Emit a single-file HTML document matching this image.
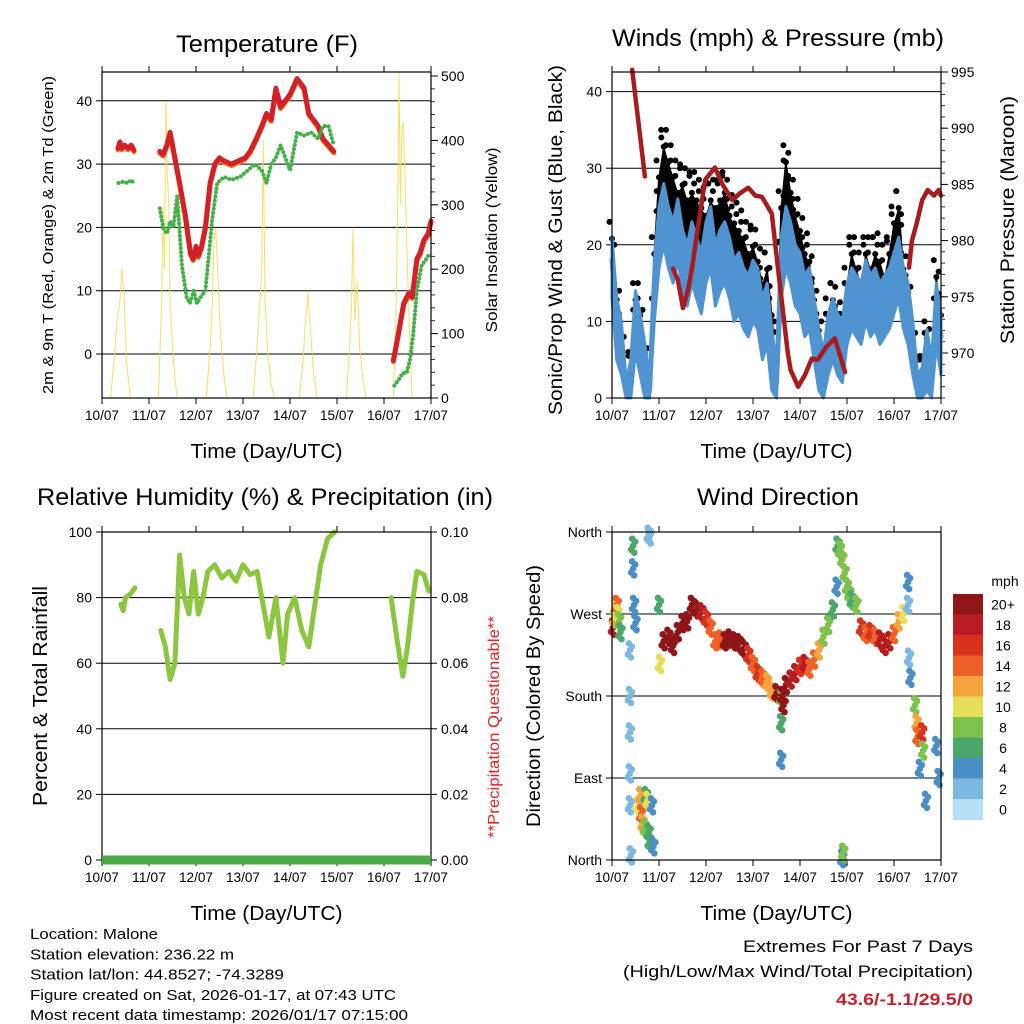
<!DOCTYPE html>
<html><head><meta charset="utf-8"><style>
html,body{margin:0;padding:0;background:#fff;}
svg{display:block;font-family:"Liberation Sans",sans-serif;}
</style></head><body>
<svg id="fig" width="1024" height="1024" viewBox="0 0 1024 1024" xmlns="http://www.w3.org/2000/svg"></svg>
<script>
// ---------- DATA ----------
const dayLabels = ["10/07","11/07","12/07","13/07","14/07","15/07","16/07","17/07"];
const tempT = [[0.34,0.38,0.42,0.48,0.55,0.62,0.68],[1.23,1.3,1.38,1.45,1.55,1.65,1.77,1.88,1.94,2.0,2.05,2.12,2.2,2.3,2.4,2.5,2.6,2.75,2.9,3.05,3.15,3.28,3.4,3.5,3.6,3.7,3.8,3.9,4.0,4.15,4.3,4.4,4.5,4.6,4.7,4.82,4.93],[6.2,6.3,6.42,6.52,6.6,6.7,6.77,6.85,6.94,7.0]];
const tempV = [[32.5,33.5,32.5,33,32.5,33,32.2],[32,31.5,33,35,31,27,22,16,15,17,15.5,17,20,27,30,31,30.5,30,30.5,31,32,34,36,38,37,42,39,40,41,43.5,42,38,37,36,34,33,32]];
tempV.push([-1,3,8,9.5,9,15,16,18,19,21]);
const dewT = [[0.35,0.45,0.55,0.62,0.68],[1.23,1.3,1.38,1.45,1.52,1.6,1.7,1.8,1.87,1.95,2.02,2.1,2.2,2.34,2.45,2.6,2.75,2.94,3.1,3.25,3.4,3.5,3.6,3.7,3.8,3.9,4.0,4.15,4.3,4.45,4.6,4.7,4.82,4.93],[6.22,6.32,6.4,6.48,6.55,6.62,6.7,6.8,6.9,6.98]];
const dewV = [[27,27.2,27,27.5,27],[23,20,19,21,20,25,14,9,8,10,8,9,10,21,27,28,27.5,28,29,30,29,27,30,31,33,31,29,35,34.5,35,34,36,36,33],[-5,-4,-3,-3,-1,3,10,14,15,16]];
const solT = [0.18,0.26,0.32,0.38,0.42,0.47,0.52,0.6, 1.2,1.27,1.3,1.33,1.36,1.39,1.42,1.45,1.5,1.55,1.6, 2.22,2.3,2.35,2.38,2.42,2.46,2.52,2.6,2.66, 3.22,3.3,3.36,3.4,3.43,3.47,3.52,3.6,3.67, 4.2,4.28,4.33,4.38,4.43,4.5,4.58, 5.2,5.27,5.31,5.34,5.38,5.43,5.48,5.55,5.62, 6.2,6.26,6.3,6.32,6.35,6.38,6.41,6.45,6.5,6.55,6.6];
const solV = [0,60,120,150,200,160,60,0, 0,150,300,200,460,350,300,150,80,30,0, 0,80,150,240,264,200,100,30,0, 0,80,150,200,400,150,80,20,0, 0,60,120,163,110,40,0, 0,80,150,264,120,180,80,30,0, 0,150,350,505,300,420,428,330,200,80,0];
const windT = [];
for (let i = 0; i <= 70; i++) windT.push(i / 10);
const windV = [18,10,8,1,3,11,8,4,1,15,22,25,22,20,23,19,17,20,18,16,20,22,17,19,20,18,15,16,14,13,15,14,10,12,6,2,18,22,20,17,16,13,14,10,6,3,8,10,8,7,12,14,13,12,15,13,14,12,13,14,16,18,14,12,8,2,3,6,3,12,8];
const gustV = [22,14,10,2,5,14,12,7,2,20,30,34,32,30,28,29,27,28,27,26,25,27,26,27,28,25,24,23,22,20,21,19,16,18,12,4,26,32,28,25,23,20,19,14,10,6,12,14,11,10,16,20,18,16,20,18,20,19,17,20,24,26,18,15,10,3,4,9,5,17,12];
const presT = [[0.43,0.7],[1.3,1.4,1.51,1.62,1.72,1.83,1.98,2.19,2.35,2.56,2.72,2.9,3.05,3.19,3.4,3.53,3.74,3.8,3.96,4.1,4.25,4.38,4.55,4.74,4.96],[6.32,6.38,6.48,6.6,6.72,6.85,6.95,7.0]];
const presV = [[995.2,985.7],[977.5,976.5,974,975.6,978,981.2,985.4,986.5,985,983.6,984.2,984.7,984,983.9,982.4,977.6,970,968.5,967,968,969.5,969.4,970.5,971.3,968.3],[977.6,980,981.5,983.6,984.5,984,984.5,984]];
const rhT = [[0.4,0.45,0.5,0.6,0.7],[1.25,1.35,1.45,1.55,1.65,1.75,1.85,1.95,2.05,2.15,2.25,2.4,2.55,2.7,2.85,3.0,3.15,3.3,3.4,3.55,3.7,3.85,3.95,4.1,4.25,4.4,4.5,4.65,4.8,4.95],[6.15,6.3,6.4,6.5,6.6,6.7,6.85,6.95]];
const rhV = [[78,76,80,81,83],[70,65,55,60,93,80,75,88,75,80,88,90,86,88,85,90,87,88,80,68,80,60,75,80,70,65,75,90,98,100],[80,65,56,65,78,88,87,82]];
const precipT = [0,7];
const precipV = [0,0];
const dirT = [0.02,0.05,0.08,0.1,0.12,0.15,0.18,0.38,0.38,0.38,0.38,0.38,0.4,0.45,0.45,0.47,0.5,0.55,0.6,0.62,0.65,0.7,0.72,0.75,0.78,0.8,0.85,0.88,0.78,0.8,1.0,1.02,1.1,1.2,1.3,1.4,1.5,1.6,1.7,1.8,1.9,2.0,2.1,2.2,2.3,2.4,2.5,2.6,2.7,2.8,2.9,3.0,3.1,3.2,3.3,3.4,3.5,3.6,3.6,3.6,3.62,3.65,3.7,3.8,3.9,4.0,4.1,4.2,4.3,4.4,4.5,4.6,4.7,4.78,4.8,4.85,4.9,4.95,5.0,5.05,5.1,5.2,5.3,5.4,5.5,5.6,5.7,5.8,5.9,6.0,6.1,6.2,6.3,6.3,6.32,6.35,6.45,6.48,6.5,6.55,6.6,6.62,6.68,6.9,6.95,4.9,4.92];
const dirV = [255,265,275,280,270,262,250,230,180,140,95,60,5,345,320,280,260,60,70,50,40,35,70,65,30,20,60,15,357,355,280,215,240,245,235,250,260,262,280,275,272,265,255,240,242,240,243,240,238,232,225,215,205,200,195,185,183,178,150,110,180,170,192,198,205,212,215,210,220,230,245,258,275,300,345,340,330,315,300,292,285,280,255,248,250,245,242,235,240,248,262,270,305,280,222,200,170,150,135,100,140,120,65,125,90,2,8];
const dirS = [18,12,10,14,10,8,6,2,1,1,2,2,1,6,4,4,3,10,12,14,12,8,6,9,6,5,4,3,2,1,6,10,20,20,19,20,20,20,21,20,18,16,14,14,14,20,20,20,20,19,16,14,15,13,12,11,19,8,6,3,20,20,20,18,17,16,18,14,13,12,8,8,6,4,6,8,8,7,7,8,6,8,16,14,16,14,18,18,17,14,12,10,4,2,2,4,8,12,14,4,15,8,4,4,4,4,8];
const speedColors = ["#b5e0f6","#7db8e0","#4a8ec5","#4ba66a","#7ec24c","#e4de58","#f6a33e","#ee6126","#d8321f","#b61c21","#8e1518"];
const cbLabels = ["20+","18","16","14","12","10","8","6","4","2","0"];

// ---------- HELPERS ----------
const NS = "http://www.w3.org/2000/svg";
const svg = document.getElementById("fig");
function el(tag, attrs, parent) {
  const e = document.createElementNS(NS, tag);
  for (const k in attrs) e.setAttribute(k, attrs[k]);
  (parent || svg).appendChild(e);
  return e;
}
function txt(s, x, y, size, anchor, extra) {
  const t = el("text", Object.assign({x: x, y: y, "font-size": size, "text-anchor": anchor || "middle", fill: "#000"}, extra || {}));
  t.textContent = s;
  return t;
}
function linScale(d0, d1, r0, r1) { return v => r0 + (v - d0) / (d1 - d0) * (r1 - r0); }

const P = {
  tl: {x0: 102, x1: 431, y0: 72, y1: 398},
  tr: {x0: 612, x1: 941, y0: 72, y1: 398},
  bl: {x0: 102, x1: 431, y0: 532, y1: 860},
  br: {x0: 612, x1: 941, y0: 532, y1: 860}
};

function frameAndXAxis(p, name) {
  const xs = linScale(0, 7, p.x0, p.x1);
  const g = el("g", {});
  
  
  dayLabels.forEach((lab, i) => {
    const x = xs(i);
    el("line", {x1: x, x2: x, y1: p.y1, y2: p.y1 + 6, stroke: "#000", "stroke-width": 1}, g);
    el("line", {x1: x, x2: x, y1: p.y0, y2: p.y0 - 6, stroke: "#000", "stroke-width": 1}, g);
    const t = txt(lab, x, p.y1 + 22, 14, "middle", {textLength: 34, lengthAdjust: "spacingAndGlyphs"});
    g.appendChild(t);
  });
  const tt = txt("Time (Day/UTC)", (p.x0 + p.x1) / 2, p.y1 + 60, 20, "middle", {textLength: 152, lengthAdjust: "spacingAndGlyphs"});
  
  
  return xs;
}
function frameBox(p, name) {
  const r = el("rect", {x: p.x0, y: p.y0, width: p.x1 - p.x0, height: p.y1 - p.y0, fill: "none", stroke: "#000", "stroke-width": 1.2});
  
  
}
function polyline(pts, attrs, name) {
  const pl = el("polyline", Object.assign({points: pts.map(p => p[0].toFixed(1) + "," + p[1].toFixed(1)).join(" "), fill: "none", "stroke-linejoin": "round", "stroke-linecap": "round"}, attrs));
  
  
  return pl;
}
function minorTicks(x, y0, y1, step) {
  for (let y = y0; y >= y1 - 0.1; y -= step) el("line", {x1: x, x2: x + 4, y1: y, y2: y, stroke: "#000", "stroke-width": 0.8});
}

// ---------- PANEL 1: TEMPERATURE ----------
(function () {
  const p = P.tl;
  const xs = frameAndXAxis(p, "temperature");
  const ys = linScale(0, 10, 354, 290.7);
  const ysol = linScale(0, 500, 398, 76);
  [0, 10, 20, 30, 40].forEach(v => {
    const gl = el("line", {x1: p.x0, x2: p.x1, y1: ys(v), y2: ys(v), stroke: "#000", "stroke-width": 1});
    
    
    el("line", {x1: p.x0 - 6, x2: p.x0, y1: ys(v), y2: ys(v), stroke: "#000"});
    const t = txt(String(v), p.x0 - 10, ys(v) + 5, 14, "end");
    
    
  });
  minorTicks(p.x1, 398, 76, (398 - 76) / 25);
  [0, 100, 200, 300, 400, 500].forEach(v => {
    el("line", {x1: p.x1, x2: p.x1 + 7, y1: ysol(v), y2: ysol(v), stroke: "#000"});
    const t = txt(String(v), p.x1 + 10, ysol(v) + 5, 14, "start");
    
    
  });
  polyline(solT.map((d, i) => [xs(d), ysol(solV[i])]), {stroke: "#f7d84a", "stroke-width": 1, opacity: 0.85}, "solar-insolation-line");
  tempT.forEach((seg, s) => {
    polyline(seg.map((d, i) => [xs(d), ys(tempV[s][i]) + 1.5]), {stroke: "#f07c24", "stroke-width": 5}, "temp-9m-line");
  });
  tempT.forEach((seg, s) => {
    polyline(seg.map((d, i) => [xs(d), ys(tempV[s][i])]), {stroke: "#d42027", "stroke-width": 5}, "temp-2m-line");
  });
  dewT.forEach((seg, s) => {
    polyline(seg.map((d, i) => [xs(d), ys(dewV[s][i])]), {stroke: "#43b04a", "stroke-width": 4, "stroke-dasharray": "0.1 4", "stroke-linecap": "round"}, "dewpoint-line");
  });
  frameBox(p, "temperature");
  const t = txt("Temperature (F)", 267, 52, 24, "middle", {textLength: 182, lengthAdjust: "spacingAndGlyphs"});
  
  
  const yl = txt("2m & 9m T (Red, Orange) & 2m Td (Green)", 0, 0, 15, "middle", {transform: "translate(53,235) rotate(-90)", textLength: 318, lengthAdjust: "spacingAndGlyphs"});
  
  
  const yr = txt("Solar Insolation (Yellow)", 0, 0, 16, "middle", {transform: "translate(497,240) rotate(-90)", textLength: 185, lengthAdjust: "spacingAndGlyphs"});
  
  
})();

// ---------- PANEL 2: WINDS & PRESSURE ----------
(function () {
  const p = P.tr;
  const xs = frameAndXAxis(p, "winds");
  const ys = linScale(0, 10, 398, 321.4);
  const yp = linScale(970, 995, 353, 72);
  [10, 20, 30, 40].forEach(v => {
    const gl = el("line", {x1: p.x0, x2: p.x1, y1: ys(v), y2: ys(v), stroke: "#000", "stroke-width": 1});
    
    
  });
  [0, 10, 20, 30, 40].forEach(v => {
    el("line", {x1: p.x0 - 6, x2: p.x0, y1: ys(v), y2: ys(v), stroke: "#000"});
    const t = txt(String(v), p.x0 - 10, ys(v) + 5, 14, "end");
    
    
  });
  minorTicks(p.x1, yp(966), 72, 11.24);
  [970, 975, 980, 985, 990, 995].forEach(v => {
    el("line", {x1: p.x1, x2: p.x1 + 7, y1: yp(v), y2: yp(v), stroke: "#000"});
    const t = txt(String(v), p.x1 + 10, yp(v) + 5, 14, "start");
    
    
  });
  // black gust envelope
  const gu = windT.map((d, i) => [xs(d), ys(Math.max(gustV[i] - 1.5, windV[i]))]);
  const gl2 = windT.map((d, i) => [xs(d), ys(windV[i])]).reverse();
  const gband = el("polygon", {points: gu.concat(gl2).map(q => q[0].toFixed(1) + "," + q[1].toFixed(1)).join(" "), fill: "#000", stroke: "#000", "stroke-width": 2, "stroke-linejoin": "round"});
  
  
  windT.forEach((d, i) => {
    const lo = windV[i] + 1, hi = gustV[i] + 1;
    let k = 0;
    for (let v = hi; v >= lo; v -= 2.2, k++) {
      const c = el("circle", {cx: xs(d) + ((k % 3) - 1) * 2.5, cy: ys(v), r: 3, fill: "#000"});
      
      
    }
    if (i < windT.length - 1) {
      const dm = (d + windT[i + 1]) / 2, gm = (gustV[i] + gustV[i + 1]) / 2 + 2;
      const c2 = el("circle", {cx: xs(dm), cy: ys(gm), r: 3, fill: "#000"});
      
      
    }
  });
  const up = windT.map((d, i) => [xs(d), ys(Math.min(windV[i] + 3, gustV[i]))]);
  const lo = windT.map((d, i) => [xs(d), ys(Math.max(windV[i] - 5, 0))]).reverse();
  const band = el("polygon", {points: up.concat(lo).map(q => q[0].toFixed(1) + "," + q[1].toFixed(1)).join(" "), fill: "#4f93d0", stroke: "#4f93d0", "stroke-width": 3, "stroke-linejoin": "round"});
  
  
  polyline(windT.map((d, i) => [xs(d), ys(windV[i])]), {stroke: "#4f93d0", "stroke-width": 5}, "sustained-wind-line");
  presT.forEach((seg, s) => {
    polyline(seg.map((d, i) => [xs(d), yp(presV[s][i])]), {stroke: "#a61c1f", "stroke-width": 4.5}, "pressure-line");
  });
  frameBox(p, "winds");
  const t = txt("Winds (mph) & Pressure (mb)", 778, 46, 24, "middle", {textLength: 332, lengthAdjust: "spacingAndGlyphs"});
  
  
  const yl = txt("Sonic/Prop Wind & Gust (Blue, Black)", 0, 0, 19, "middle", {transform: "translate(562,240) rotate(-90)", textLength: 350, lengthAdjust: "spacingAndGlyphs"});
  
  
  const yr = txt("Station Pressure (Maroon)", 0, 0, 19, "middle", {transform: "translate(1014,220) rotate(-90)", textLength: 248, lengthAdjust: "spacingAndGlyphs"});
  
  
})();

// ---------- PANEL 3: RH & PRECIP ----------
(function () {
  const p = P.bl;
  const xs = frameAndXAxis(p, "humidity");
  const ys = linScale(0, 100, 860, 532);
  const yr = linScale(0, 0.1, 860, 532);
  [20, 40, 60, 80].forEach(v => {
    const gl = el("line", {x1: p.x0, x2: p.x1, y1: ys(v), y2: ys(v), stroke: "#000", "stroke-width": 1});
    
    
  });
  [0, 20, 40, 60, 80, 100].forEach(v => {
    el("line", {x1: p.x0 - 6, x2: p.x0, y1: ys(v), y2: ys(v), stroke: "#000"});
    const t = txt(String(v), p.x0 - 10, ys(v) + 5, 14, "end");
    
    
  });
  ["0.00", "0.02", "0.04", "0.06", "0.08", "0.10"].forEach(s => {
    const v = parseFloat(s);
    el("line", {x1: p.x1, x2: p.x1 + 6, y1: yr(v), y2: yr(v), stroke: "#000"});
    const t = txt(s, p.x1 + 10, yr(v) + 5, 14, "start");
    
    
  });
  rhT.forEach((seg, s) => {
    polyline(seg.map((d, i) => [xs(d), ys(rhV[s][i])]), {stroke: "#8cc63f", "stroke-width": 5}, "humidity-line");
  });
  frameBox(p, "humidity");
  polyline(precipT.map((d, i) => [xs(d), yr(precipV[i])]), {stroke: "#4aa846", "stroke-width": 9, "stroke-linecap": "butt"}, "precipitation-line");
  const t = txt("Relative Humidity (%) & Precipitation (in)", 265, 505, 24, "middle", {textLength: 456, lengthAdjust: "spacingAndGlyphs"});
  
  
  const yl = txt("Percent & Total Rainfall", 0, 0, 20, "middle", {transform: "translate(47,696) rotate(-90)", textLength: 220, lengthAdjust: "spacingAndGlyphs"});
  
  
  const yq = txt("**Precipitation Questionable**", 0, 0, 16, "middle", {transform: "translate(499,727) rotate(-90)", fill: "#e8201f", textLength: 222, lengthAdjust: "spacingAndGlyphs"});
  
  
})();

// ---------- PANEL 4: WIND DIRECTION ----------
(function () {
  const p = P.br;
  const xs = frameAndXAxis(p, "direction");
  const ys = linScale(0, 360, 860, 532);
  const dirLabels = ["North", "East", "South", "West", "North"];
  dirLabels.forEach((lab, i) => {
    const v = i * 90;
    if (i > 0 && i < 4) {
      const gl = el("line", {x1: p.x0, x2: p.x1, y1: ys(v), y2: ys(v), stroke: "#000", "stroke-width": 1});
      
      
    }
    el("line", {x1: p.x0 - 6, x2: p.x0, y1: ys(v), y2: ys(v), stroke: "#000"});
    const t = txt(lab, p.x0 - 10, ys(v) + 5, 14, "end");
    
    
  });
  const offs = [[0, 0], [-2, 4], [2, -4], [1, 7], [-1, -7]];
  dirT.forEach((d, i) => {
    const ci = Math.min(10, Math.max(0, Math.round(dirS[i] / 2)));
    offs.forEach(o => {
      const c = el("circle", {cx: xs(d) + o[0], cy: ys(dirV[i]) + o[1], r: 3.3, fill: speedColors[ci]});
      
      
    });
  });
  frameBox(p, "direction");
  const t = txt("Wind Direction", 778, 505, 24, "middle", {textLength: 162, lengthAdjust: "spacingAndGlyphs"});
  
  
  const yl = txt("Direction (Colored By Speed)", 0, 0, 19, "middle", {transform: "translate(540,696) rotate(-90)", textLength: 262, lengthAdjust: "spacingAndGlyphs"});
  
  
  const cb = el("g", {});
  
  
  const bh = 20.5;
  cbLabels.forEach((lab, i) => {
    const y = 594 + i * bh;
    el("rect", {x: 953, y: y, width: 30, height: bh + 0.5, fill: speedColors[10 - i]}, cb);
    const lt = txt(lab, 1003, y + bh / 2 + 5, 14, "middle");
    cb.appendChild(lt);
  });
  const ut = txt("mph", 1005, 586, 14, "middle");
  
  
})();

// ---------- FOOTER ----------
const footLeft = ["Location: Malone", "Station elevation: 236.22 m", "Station lat/lon: 44.8527; -74.3289", "Figure created on Sat, 2026-01-17, at 07:43 UTC", "Most recent data timestamp: 2026/01/17 07:15:00"];
const footW = [128, 204, 254, 366, 378];
footLeft.forEach((s, i) => {
  const t = txt(s, 30, 939 + i * 20.3, 15, "start", {textLength: footW[i], lengthAdjust: "spacingAndGlyphs"});
  
  
});
const e1 = txt("Extremes For Past 7 Days", 973, 952, 17, "end", {textLength: 230, lengthAdjust: "spacingAndGlyphs"});


const e2 = txt("(High/Low/Max Wind/Total Precipitation)", 973, 977, 17, "end", {textLength: 350, lengthAdjust: "spacingAndGlyphs"});


const e3 = txt("43.6/-1.1/29.5/0", 973, 1005, 17, "end", {fill: "#c8202a", "font-weight": "bold", textLength: 137, lengthAdjust: "spacingAndGlyphs"});


</script>
</body></html>
